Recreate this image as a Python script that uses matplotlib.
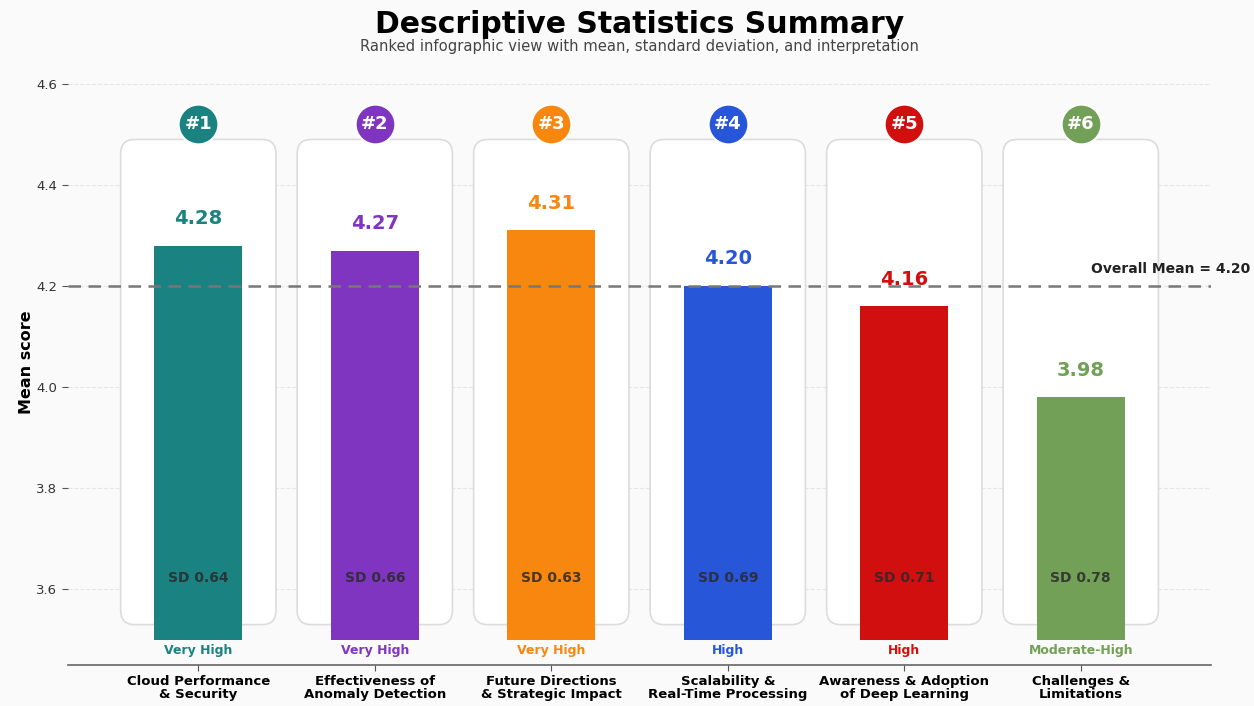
import numpy as np
import matplotlib.pyplot as plt
from matplotlib.patches import FancyBboxPatch

categories = ["Cloud Performance\n& Security", "Effectiveness of\nAnomaly Detection",
              "Future Directions\n& Strategic Impact", "Scalability &\nReal-Time Processing",
              "Awareness & Adoption\nof Deep Learning", "Challenges &\nLimitations"]
means = [4.28, 4.27, 4.31, 4.20, 4.16, 3.98]
sds = [0.64, 0.66, 0.63, 0.69, 0.71, 0.78]
ranks = ["#1", "#2", "#3", "#4", "#5", "#6"]
levels = ["Very High", "Very High", "Very High", "High", "High", "Moderate-High"]
colors = ["#1a8280", "#8035c0", "#f7870f", "#2856d8", "#d10f0f", "#72a056"]
overall_mean = 4.20

base = 3.5
bg = "#fafafa"

fig = plt.figure(figsize=(12.54, 7.06), dpi=100, facecolor=bg)
ax = fig.add_axes([0.054, 0.058, 0.912, 0.859], facecolor=bg)

x = np.arange(len(categories))
ax.set_xlim(-0.74, 5.74)
ax.set_ylim(3.45, 4.65)

# cards behind bars
for xi in x:
    card = FancyBboxPatch((xi - 0.44, 3.53), 0.88, 0.96,
                          boxstyle="round,pad=0,rounding_size=0.08",
                          mutation_aspect=0.35, facecolor="white",
                          edgecolor="#dcdcdc", lw=1.2, zorder=1)
    ax.add_patch(card)

ax.bar(x, np.array(means) - base, bottom=base, width=0.5, color=colors, zorder=2)

ax.axhline(overall_mean, color="#777777", ls="--", lw=1.8, dashes=(5, 3), zorder=3)
ax.text(5.96, overall_mean + 0.02, f"Overall Mean = {overall_mean:.2f}", ha="right",
        va="bottom", fontsize=10, fontweight="bold", color="#222222", clip_on=False)

for xi, m, s, r, lv, c in zip(x, means, sds, ranks, levels, colors):
    ax.text(xi, m + 0.035, f"{m:.2f}", ha="center", va="bottom", fontsize=14,
            fontweight="bold", color=c, zorder=4)
    ax.text(xi, 3.622, f"SD {s:.2f}", ha="center", va="center", fontsize=10,
            fontweight="bold", color="#2a2a2a", alpha=0.85, zorder=4)
    ax.text(xi, 3.478, lv, ha="center", va="center", fontsize=9,
            fontweight="bold", color=c, zorder=4, clip_on=False)
    ax.scatter(xi, 4.52, s=820, color=c, edgecolors="white", linewidths=1.5,
               zorder=5, clip_on=False)
    ax.text(xi, 4.52, r, ha="center", va="center", fontsize=13,
            fontweight="bold", color="white", zorder=6)

ax.set_xticks(x)
ax.set_xticklabels(categories, fontsize=9.5, fontweight="bold", linespacing=1.0)
ax.set_yticks([3.6, 3.8, 4.0, 4.2, 4.4, 4.6])
ax.tick_params(axis="y", labelsize=9.5, labelcolor="#333333", color="#555555", length=4)
ax.tick_params(axis="x", color="#555555", length=4, pad=3)
ax.set_ylabel("Mean score", fontsize=11.5, fontweight="bold", labelpad=2)
ax.grid(axis="y", ls="--", color="#e6e6e6", lw=0.8, zorder=0)
ax.set_axisbelow(True)
for side in ["top", "right", "left"]:
    ax.spines[side].set_visible(False)
ax.spines["bottom"].set_color("#666666")
ax.spines["bottom"].set_linewidth(1.2)

fig.text(0.51, 0.965, "Descriptive Statistics Summary", ha="center", va="center",
         fontsize=21.5, fontweight="bold")
fig.text(0.51, 0.934, "Ranked infographic view with mean, standard deviation, and interpretation",
         ha="center", va="center", fontsize=10.6, color="#444444")

fig.savefig("out.png", dpi=100, facecolor=bg)
